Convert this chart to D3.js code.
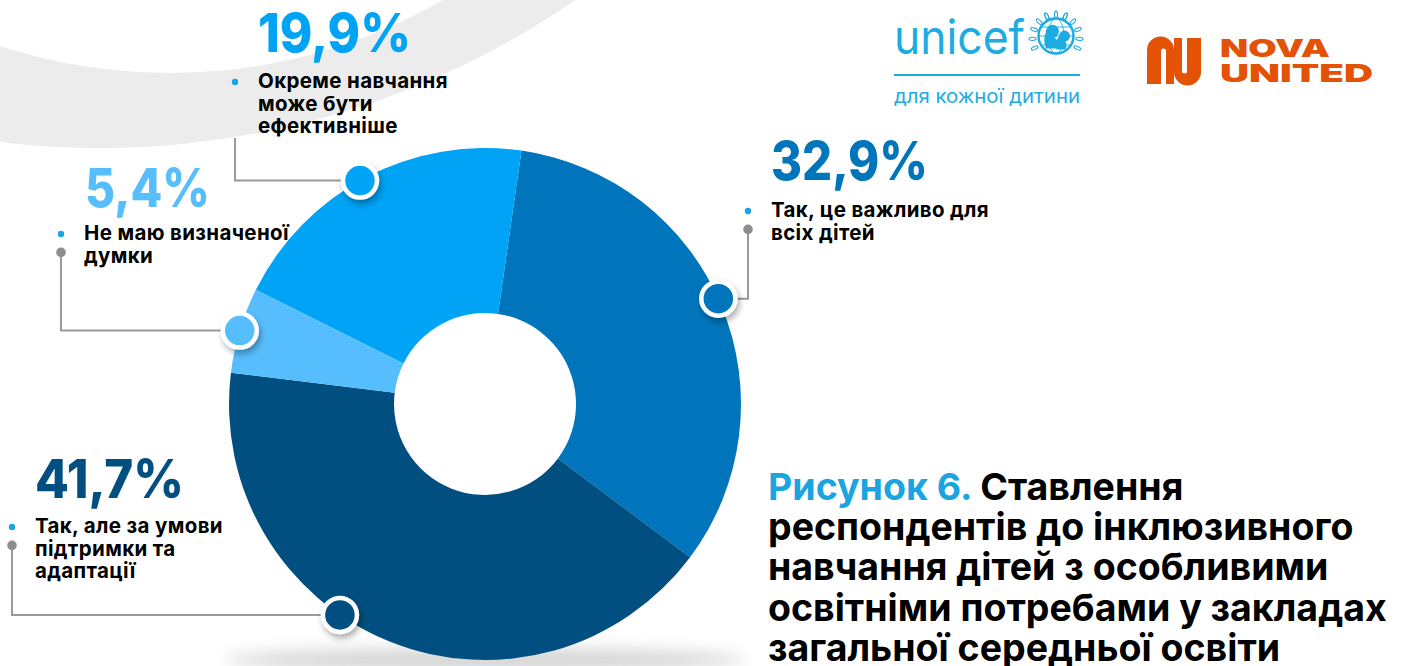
<!DOCTYPE html>
<html><head><meta charset="utf-8">
<script src="https://cdn.jsdelivr.net/npm/d3@7"></script>
<style>
html,body{margin:0;padding:0;background:#fff;overflow:hidden;}
svg{display:block;}
text{font-family:Inter,"Noto Sans",sans-serif;}
</style>
</head><body>
<svg id="chart" width="1404" height="666"></svg>
<script>
// ---------- data ----------
const categories = [
  "Так, це важливо для всіх дітей",
  "Так, але за умови підтримки та адаптації",
  "Не маю визначеної думки",
  "Окреме навчання може бути ефективніше"
];
const values = [32.9, 41.7, 5.4, 19.9];
const valueLabels = ["32,9%", "41,7%", "5,4%", "19,9%"];
const labelLines = [
  ["Так, це важливо для", "всіх дітей"],
  ["Так, але за умови", "підтримки та", "адаптації"],
  ["Не маю визначеної", "думки"],
  ["Окреме навчання", "може бути", "ефективніше"]
];
const titleLead = "Рисунок 6.";
const titleLines = ["Ставлення", "респондентів до інклюзивного", "навчання дітей з особливими", "освітніми потребами у закладах", "загальної середньої освіти"];

// ---------- style / layout ----------
const colors = ["#0075BB", "#004F80", "#57BEFE", "#00A3F6"];
const W = 1404, H = 666;
const cx = 485, cy = 404, rOuter = 256, rInner = 91;
const startDeg = 8.2;
const layout = [
  {numX: 771, numY: 180, numW: 157, textX: 771, lineY: 217, bulletX: 748, dot: true, markerFrac: 0.485},
  {numX: 35,  numY: 498, numW: 149, textX: 35,  lineY: 533, bulletX: 12,  dot: true, markerFrac: 0.584},
  {numX: 85,  numY: 207, numW: 125, textX: 84,  lineY: 240, bulletX: 61,  dot: true, markerFrac: 0.495},
  {numX: 258, numY: 52,  numW: 153, textX: 258, lineY: 88,  bulletX: 235, dot: false, lineTop: 138, markerFrac: 0.478}
];
const labelLH = 22.5;

const svg = d3.select("#chart");
const defs = svg.append("defs");
const ds = defs.append("filter").attr("id", "ds").attr("x", "-60%").attr("y", "-60%").attr("width", "220%").attr("height", "220%");
ds.append("feDropShadow").attr("dx", 2).attr("dy", 4).attr("stdDeviation", 3).attr("flood-color", "#000").attr("flood-opacity", 0.32);
const blur = defs.append("filter").attr("id", "blur").attr("x", "-50%").attr("y", "-200%").attr("width", "200%").attr("height", "500%");
blur.append("feGaussianBlur").attr("stdDeviation", 8);

// background crescent
const circ = (x, y, r) => `M${x - r},${y}a${r},${r} 0 1,0 ${2 * r},0a${r},${r} 0 1,0 ${-2 * r},0Z`;
svg.append("path").attr("d", circ(100, -690, 838) + circ(170, -475, 548))
  .attr("fill", "#ECECEC").attr("fill-rule", "evenodd");

// donut shadow
svg.append("ellipse").attr("cx", cx).attr("cy", 660).attr("rx", 260).attr("ry", 12)
  .attr("fill", "#888").attr("opacity", 0.35).attr("filter", "url(#blur)");

// donut
const pie = d3.pie().sort(null).value(d => d)
  .startAngle(startDeg * Math.PI / 180).endAngle(startDeg * Math.PI / 180 + 2 * Math.PI);
const arcs = pie(values);
const arc = d3.arc().innerRadius(rInner).outerRadius(rOuter);
const g = svg.append("g").attr("transform", `translate(${cx},${cy})`);
g.selectAll("path.slice").data(arcs).join("path").attr("class", "slice")
  .attr("d", arc).attr("fill", (d, i) => colors[i]);

// marker positions
const markers = arcs.map((d, i) => {
  const a = d.startAngle + (d.endAngle - d.startAngle) * layout[i].markerFrac;
  return {x: cx + rOuter * Math.sin(a), y: cy - rOuter * Math.cos(a)};
});

// leader lines
layout.forEach((L, i) => {
  const m = markers[i];
  const top = L.dot ? L.lineY + labelLH * 0.55 : L.lineTop;
  svg.append("path").attr("d", `M${L.bulletX},${top}V${m.y}H${m.x}`)
    .attr("fill", "none").attr("stroke", "#9A9A9A").attr("stroke-width", 2);
  if (L.dot) svg.append("circle").attr("cx", L.bulletX).attr("cy", top).attr("r", 4.8).attr("fill", "#8E8E8E");
});

// markers
svg.selectAll("circle.mk").data(markers).join("circle").attr("class", "mk")
  .attr("cx", d => d.x).attr("cy", d => d.y).attr("r", 17)
  .attr("fill", (d, i) => colors[i]).attr("stroke", "#fff").attr("stroke-width", 4.5)
  .attr("filter", "url(#ds)");

// labels
layout.forEach((L, i) => {
  svg.append("text").attr("x", L.numX).attr("y", L.numY)
    .attr("font-size", 53).attr("font-weight", 800).attr("fill", colors[i])
    .attr("textLength", L.numW).attr("lengthAdjust", "spacingAndGlyphs")
    .text(valueLabels[i]);
  svg.append("circle").attr("cx", L.bulletX).attr("cy", L.lineY - 6).attr("r", 3.2).attr("fill", "#1BA5E0");
  const t = svg.append("text").attr("x", L.textX).attr("y", L.lineY)
    .attr("font-size", 20.5).attr("font-weight", 700).attr("fill", "#000").attr("letter-spacing", 0.35);
  labelLines[i].forEach((s, k) => t.append("tspan").attr("x", L.textX).attr("y", L.lineY + k * labelLH).text(s));
});

// title
const tt = svg.append("text").attr("x", 768).attr("y", 500).attr("font-size", 37.5).attr("font-weight", 700).attr("fill", "#000");
titleLines.forEach((s, k) => {
  const sp = tt.append("tspan").attr("x", 768).attr("y", 500 + k * 40.2);
  if (k === 0) {
    sp.append("tspan").attr("fill", "#1AA5E0").text(titleLead + " ");
    sp.append("tspan").text(s);
  } else sp.text(s);
});

// unicef logo
const uc = "#1CABE2";
svg.append("text").attr("x", 894).attr("y", 54).attr("font-size", 47).attr("font-weight", 400)
  .attr("fill", uc).attr("textLength", 131).attr("lengthAdjust", "spacingAndGlyphs")
  .attr("font-family", "Roboto, sans-serif").text("unicef");
const em = svg.append("g").attr("transform", "translate(1056,36)");
em.append("circle").attr("r", 17.5).attr("fill", "none").attr("stroke", uc).attr("stroke-width", 2.4);
em.append("ellipse").attr("rx", 8).attr("ry", 17.5).attr("fill", "none").attr("stroke", uc).attr("stroke-width", 0.9);
em.append("line").attr("x1", -17).attr("x2", 17).attr("stroke", uc).attr("stroke-width", 0.9);
em.append("line").attr("x1", -15).attr("x2", 15).attr("y1", -9).attr("y2", -9).attr("stroke", uc).attr("stroke-width", 0.9);
em.append("line").attr("x1", -15).attr("x2", 15).attr("y1", 9).attr("y2", 9).attr("stroke", uc).attr("stroke-width", 0.9);
em.append("path").attr("d", "M-10,-4 a6.5,6.5 0 1,1 8.5,5.5 q4.5,3 3.5,11 l-12,0 q-3.5,-9 0,-16.5z").attr("fill", uc);
em.append("path").attr("d", "M3,0 a5.5,5.5 0 1,1 6.5,5.5 q2,3 0,8 l-9,0 q-2,-7 2.5,-13.5z").attr("fill", uc);
[-1, 1].forEach(s => {
  for (let k = 0; k < 7; k++) {
    const a = (205 - k * 23) * Math.PI / 180;
    const x = s * 23.5 * Math.cos(a), y = -23.5 * Math.sin(a) + 2;
    em.append("ellipse").attr("cx", x).attr("cy", y).attr("rx", 1.6).attr("ry", 3.6)
      .attr("transform", `rotate(${s * (k * 23 - 115)},${x},${y})`).attr("fill", "none").attr("stroke", uc).attr("stroke-width", 1);
  }
});
svg.append("rect").attr("x", 894).attr("y", 74).attr("width", 186).attr("height", 2).attr("fill", uc);
svg.append("text").attr("x", 894).attr("y", 103).attr("font-size", 19).attr("fill", uc)
  .attr("font-family", "Roboto, sans-serif").attr("textLength", 186).attr("lengthAdjust", "spacingAndGlyphs")
  .text("для кожної дитини");

// Nova United logo
const oc = "#E35205";
svg.append("path").attr("d", "M1147,84V50A13.5,13.5 0 0 1 1174,50V84H1166V51A2.5,2.5 0 0 0 1161,51V84Z").attr("fill", oc);
svg.append("path").attr("d", "M1201,38V72A13.5,13.5 0 0 1 1174,72V38H1182V71A2.5,2.5 0 0 0 1187,71V38Z").attr("fill", oc);
svg.append("text").attr("x", 1220).attr("y", 57).attr("font-size", 24.5).attr("font-weight", 900).attr("fill", oc)
  .attr("textLength", 110).attr("lengthAdjust", "spacingAndGlyphs").text("NOVA");
svg.append("text").attr("x", 1220).attr("y", 82).attr("font-size", 24.5).attr("font-weight", 900).attr("fill", oc)
  .attr("textLength", 153).attr("lengthAdjust", "spacingAndGlyphs").text("UNITED");
</script>
</body></html>
